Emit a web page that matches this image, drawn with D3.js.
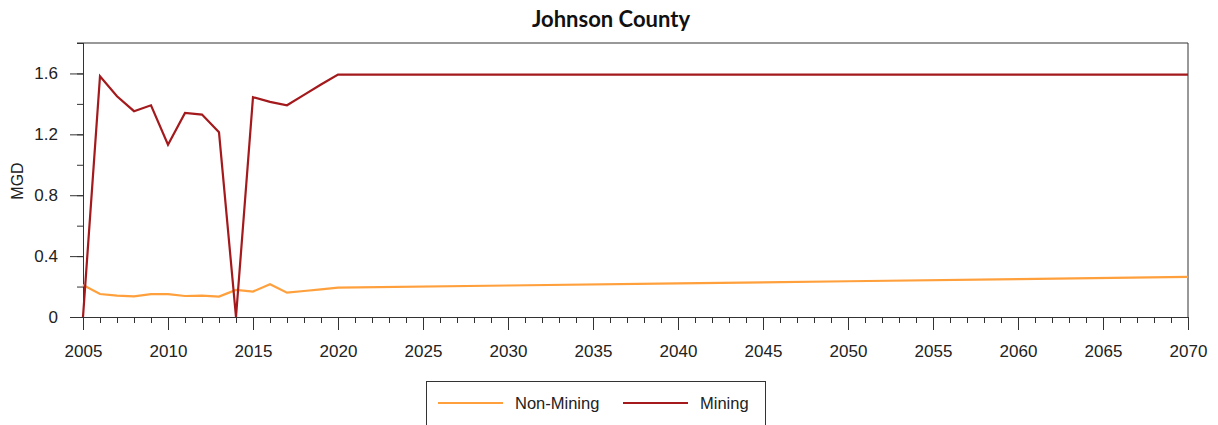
<!DOCTYPE html>
<html>
<head>
<meta charset="utf-8">
<script src="https://cdn.jsdelivr.net/npm/d3@7"></script>
<style>
  html, body { margin: 0; padding: 0; background: #fff; }
  svg { display: block; }
</style>
</head>
<body>
<svg id="chart" width="1218" height="425"></svg>
<script>
const title = "Johnson County";
const yLabel = "MGD";
const seriesNames = ["Non-Mining", "Mining"];
const seriesColors = ["#ffa03c", "#a3191c"];

const yearsHist = [2005, 2006, 2007, 2008, 2009, 2010, 2011, 2012, 2013, 2014, 2015, 2016, 2017, 2018, 2019, 2020, 2030, 2040, 2050, 2060, 2070];
const nonMining = [0.21, 0.151, 0.14, 0.136, 0.15, 0.15, 0.138, 0.14, 0.134, 0.178, 0.167, 0.215, 0.16, 0.171, 0.182, 0.193, 0.207, 0.221, 0.235, 0.249, 0.263];
const mining    = [0, 1.582, 1.45, 1.352, 1.391, 1.132, 1.341, 1.33, 1.213, 0, 1.444, 1.413, 1.391, 1.459, 1.527, 1.592, 1.592, 1.592, 1.592, 1.592, 1.592];

const xMajorTicks = [2005, 2010, 2015, 2020, 2025, 2030, 2035, 2040, 2045, 2050, 2055, 2060, 2065, 2070];
const yMajorTicks = [0, 0.4, 0.8, 1.2, 1.6];
const yTickLabels = ["0", "0.4", "0.8", "1.2", "1.6"];

const svg = d3.select("#chart");
const m = { left: 83, right: 1188, top: 43, bottom: 317 };

const x = d3.scaleLinear().domain([2005, 2070]).range([m.left, m.right]);
const y = d3.scaleLinear().domain([0, 1.8]).range([m.bottom, m.top]);

const axisColor = "#333";
const font = "'Liberation Sans', Arial, sans-serif";

// frame: top and right lines
svg.append("line").attr("x1", m.left - 6).attr("x2", m.right).attr("y1", m.top).attr("y2", m.top)
  .attr("stroke", axisColor).attr("stroke-width", 1);
svg.append("line").attr("x1", m.right).attr("x2", m.right).attr("y1", m.top).attr("y2", m.bottom)
  .attr("stroke", axisColor).attr("stroke-width", 1);

// x axis minor
const xMinor = d3.range(2005, 2071);
const gxMinor = svg.append("g").attr("transform", `translate(0,${m.bottom})`)
  .call(d3.axisBottom(x).tickValues(xMinor).tickSize(6).tickFormat("").tickSizeOuter(0));
const gx = svg.append("g").attr("transform", `translate(0,${m.bottom})`)
  .call(d3.axisBottom(x).tickValues(xMajorTicks).tickSize(13).tickFormat(d3.format("d")).tickSizeOuter(0).tickPadding(15));
[gxMinor, gx].forEach(g => {
  g.select(".domain").attr("stroke", axisColor).attr("d", `M${m.left - 13},0.5H${m.right}`);
  g.selectAll(".tick line").attr("stroke", axisColor);
});
gx.selectAll("text").attr("font-family", font).attr("font-size", 17).attr("fill", "#222");

// y axis minor
const yMinor = d3.range(0, 9).map(i => i * 0.2 + 0.2).filter(v => v <= 1.8001);
const gyMinor = svg.append("g").attr("transform", `translate(${m.left},0)`)
  .call(d3.axisLeft(y).tickValues(yMinor).tickSize(6).tickFormat("").tickSizeOuter(0));
const gy = svg.append("g").attr("transform", `translate(${m.left},0)`)
  .call(d3.axisLeft(y).tickValues(yMajorTicks).tickSize(13).tickFormat((d, i) => yTickLabels[i]).tickSizeOuter(0).tickPadding(12));
[gyMinor, gy].forEach(g => {
  g.select(".domain").attr("stroke", axisColor).attr("d", `M0.5,${m.top}V${m.bottom}`);
  g.selectAll(".tick line").attr("stroke", axisColor);
});
gy.selectAll("text").attr("font-family", font).attr("font-size", 17).attr("fill", "#222");

// y label
svg.append("text").attr("transform", `translate(23,181) rotate(-90)`)
  .attr("text-anchor", "middle").attr("font-family", font).attr("font-size", 16).attr("fill", "#222")
  .text(yLabel);

// title
svg.append("text").attr("x", 611).attr("y", 27).attr("text-anchor", "middle")
  .attr("font-family", "Lato, 'Open Sans', sans-serif").attr("font-weight", "bold").attr("font-size", 22)
  .attr("fill", "#111").text(title);

// lines
const line = d3.line().x(d => x(d[0])).y(d => y(d[1]));
const seriesData = [nonMining, mining];
seriesData.forEach((vals, i) => {
  svg.append("path").datum(yearsHist.map((yr, j) => [yr, vals[j]]))
    .attr("fill", "none").attr("stroke", seriesColors[i]).attr("stroke-width", 2.2)
    .attr("stroke-linejoin", "miter").attr("d", line);
});

// legend
const lg = svg.append("g");
lg.append("rect").attr("x", 426.5).attr("y", 381.5).attr("width", 339).attr("height", 60)
  .attr("fill", "#fff").attr("stroke", "#333");
const legendItems = [
  { name: seriesNames[0], color: seriesColors[0], x1: 438, x2: 503, tx: 515 },
  { name: seriesNames[1], color: seriesColors[1], x1: 623, x2: 688, tx: 700 }
];
legendItems.forEach(it => {
  lg.append("line").attr("x1", it.x1).attr("x2", it.x2).attr("y1", 403).attr("y2", 403)
    .attr("stroke", it.color).attr("stroke-width", 2.2);
  lg.append("text").attr("x", it.tx).attr("y", 409).attr("font-family", font).attr("font-size", 16.5)
    .attr("fill", "#222").text(it.name);
});
</script>
</body>
</html>
